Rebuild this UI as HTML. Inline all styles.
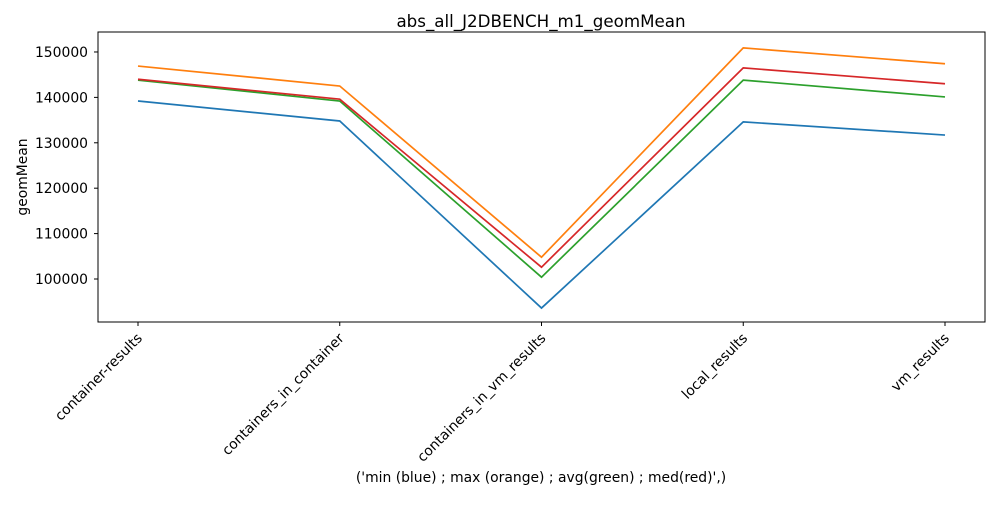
<!DOCTYPE html>
<html><head><meta charset="utf-8"><style>
body{margin:0;background:#fff;}
svg text{font-family:"DejaVu Sans","Liberation Sans",sans-serif;fill:#000;}
</style></head><body>
<svg id="chart" width="1000" height="500"></svg>
<script>
const categories=["container-results","containers_in_container","containers_in_vm_results","local_results","vm_results"];
const minVals=[139200,134800,93600,134600,131700];
const maxVals=[146900,142500,104800,150900,147400];
const avgVals=[143800,139200,100400,143800,140100];
const medVals=[144000,139600,102600,146500,143000];
const yTicks=[100000,110000,120000,130000,140000,150000];
const series=[["min",minVals,"#1f77b4"],["max",maxVals,"#ff7f0e"],["avg",avgVals,"#2ca02c"],["med",medVals,"#d62728"]];
const L=98,R=985,T=32,B=322,yMin=90530,yMax=154400;
const NS="http://www.w3.org/2000/svg";
const svg=document.getElementById("chart");
function xS(i){return 138+i*(945-138)/(categories.length-1);}
function yS(v){return B-(v-yMin)/(yMax-yMin)*(B-T);}
function mk(tag,attrs,parent){const e=document.createElementNS(NS,tag);for(const k in attrs)e.setAttribute(k,attrs[k]);(parent||svg).appendChild(e);return e;}
const title=mk("text",{x:541,y:27,"text-anchor":"middle","font-size":"16.7"});title.textContent="abs_all_J2DBENCH_m1_geomMean";


series.forEach(s=>{
  const p=mk("polyline",{points:s[1].map((v,i)=>xS(i)+","+yS(v)).join(" "),fill:"none",stroke:s[2],"stroke-width":"1.7"});
  
  
});
const frame=mk("rect",{x:L,y:T,width:R-L,height:B-T,fill:"none",stroke:"#000","stroke-width":"1"});


yTicks.forEach(v=>{
  const y=yS(v);
  mk("line",{x1:L-4,x2:L,y1:y,y2:y,stroke:"#000"});
  const t=mk("text",{x:L-10,y:y+5,"text-anchor":"end","font-size":"13.9"});t.textContent=v;
  
  
});
categories.forEach((c,i)=>{
  const x=xS(i);
  mk("line",{x1:x,x2:x,y1:B,y2:B+4,stroke:"#000"});
  const t=mk("text",{x:x+5,y:B+17,"text-anchor":"end","font-size":"13.9",transform:"rotate(-45 "+(x+5)+" "+(B+17)+")"});t.textContent=c;
  
  
});
const yl=mk("text",{x:27,y:177,"text-anchor":"middle","font-size":"13.9",transform:"rotate(-90 27 177)"});yl.textContent="geomMean";


const xl=mk("text",{x:541,y:482,"text-anchor":"middle","font-size":"13.9"});xl.textContent="('min (blue) ; max (orange) ; avg(green) ; med(red)',)";


</script>
</body></html>
